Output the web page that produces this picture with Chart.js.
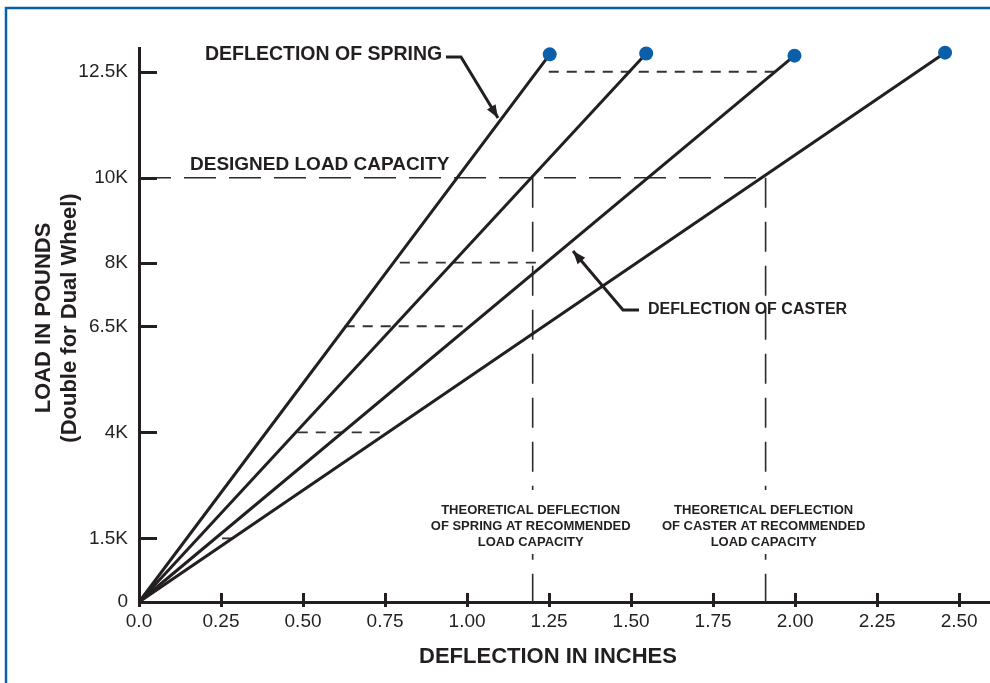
<!DOCTYPE html>
<html>
<head>
<meta charset="utf-8">
<script src="https://cdn.jsdelivr.net/npm/chart.js@4.4.1/dist/chart.umd.min.js"></script>
<style>
  html, body { margin: 0; padding: 0; background: #fff; }
  canvas { display: block; }
</style>
</head>
<body>
<canvas id="loadChart" width="990" height="683"></canvas>
<script>
// load / deflection lines
const lineEndDeflection = [1.252, 1.546, 1.998, 2.457];
const lineEndLoad = [12910, 12930, 12880, 12950];

const xTickValues = [0, 0.25, 0.5, 0.75, 1, 1.25, 1.5, 1.75, 2, 2.25, 2.5];
const yTickValues = [0, 1500, 4000, 6500, 8000, 10000, 12500];
const yTickLabels = ['0', '1.5K', '4K', '6.5K', '8K', '10K', '12.5K'];

const designedLoad = 10000;
const springDeflection = 1.2;
const casterDeflection = 1.91;

// short dashed guides: load level, from / to deflection
const guideLoads = [12500, 8000, 6500, 4000, 1500];
const guideFrom = [1.249, 0.795, 0.627, 0.484, 0.253];
const guideTo = [1.939, 1.231, 1.002, 0.755, 0.283];

const ink = '#231f20';
const blue = '#0b5ea8';
const font = "'Liberation Sans', Arial, Helvetica, sans-serif";

const datasets = [];
lineEndDeflection.forEach((d, i) => {
    datasets.push({
        data: [{ x: 0, y: 0 }, { x: d, y: lineEndLoad[i] }],
        showLine: true,
        borderColor: ink,
        borderWidth: 3,
        pointRadius: [0, 7],
        pointBackgroundColor: blue,
        pointBorderWidth: 0,
        clip: false,
        order: 0
    });
});

// designed load capacity and the two vertical drops
datasets.push({
    data: [{ x: 0, y: designedLoad }, { x: casterDeflection, y: designedLoad }],
    showLine: true, borderColor: '#2a2a2a', borderWidth: 1.6, borderDash: [32, 13],
    pointRadius: 0, order: 1
});
[springDeflection, casterDeflection].forEach(d => {
    datasets.push({
        data: [{ x: d, y: designedLoad }, { x: d, y: 0 }],
        showLine: true, borderColor: '#2a2a2a', borderWidth: 1.6, borderDash: [30, 14],
        pointRadius: 0, order: 1
    });
});

guideLoads.forEach((load, i) => {
    datasets.push({
        data: [{ x: guideFrom[i], y: load }, { x: guideTo[i], y: load }],
        showLine: true, borderColor: '#333', borderWidth: 1.8, borderDash: [10, 8],
        pointRadius: 0, order: 1
    });
});

function arrow(ctx, pts) {
    ctx.beginPath();
    ctx.moveTo(pts[0][0], pts[0][1]);
    for (let i = 1; i < pts.length; i++) ctx.lineTo(pts[i][0], pts[i][1]);
    ctx.stroke();
    const [x1, y1] = pts[pts.length - 2];
    const [x2, y2] = pts[pts.length - 1];
    const a = Math.atan2(y2 - y1, x2 - x1);
    const len = 13, w = 5;
    ctx.beginPath();
    ctx.moveTo(x2, y2);
    ctx.lineTo(x2 - len * Math.cos(a) + w * Math.sin(a), y2 - len * Math.sin(a) - w * Math.cos(a));
    ctx.lineTo(x2 - len * Math.cos(a) - w * Math.sin(a), y2 - len * Math.sin(a) + w * Math.cos(a));
    ctx.closePath();
    ctx.fill();
}

const decorations = {
    id: 'decorations',
    beforeDraw(chart) {
        const ctx = chart.ctx;
        ctx.save();
        ctx.fillStyle = '#fff';
        ctx.fillRect(0, 0, chart.width, chart.height);
        ctx.strokeStyle = blue;
        ctx.lineWidth = 2.5;
        ctx.beginPath();
        ctx.moveTo(6, chart.height);
        ctx.lineTo(6, 8);
        ctx.lineTo(chart.width, 8);
        ctx.stroke();
        ctx.restore();
    },
    afterDraw(chart) {
        const ctx = chart.ctx;
        const xs = chart.scales.x, ys = chart.scales.y;
        const x0 = xs.left, y0 = ys.bottom;
        ctx.save();
        ctx.strokeStyle = ink;
        ctx.fillStyle = ink;
        ctx.lineWidth = 3;

        // tick marks (inside on y, across the axis on x)
        ys.ticks.forEach(t => {
            const py = Math.round(ys.getPixelForValue(t.value)) + 0.5;
            ctx.beginPath();
            ctx.moveTo(x0, py);
            ctx.lineTo(x0 + 18, py);
            ctx.stroke();
        });
        xs.ticks.forEach(t => {
            const px = Math.round(xs.getPixelForValue(t.value)) + 0.5;
            ctx.beginPath();
            ctx.moveTo(px, y0 - 9);
            ctx.lineTo(px, y0 + 5);
            ctx.stroke();
        });

        // axis titles
        ctx.textAlign = 'center';
        ctx.textBaseline = 'middle';
        ctx.font = 'bold 22px ' + font;
        ctx.fillText('DEFLECTION IN INCHES', 548, 657);
        ctx.save();
        ctx.translate(44, 318);
        ctx.rotate(-Math.PI / 2);
        ctx.fillText('LOAD IN POUNDS', 0, 0);
        ctx.fillText('(Double for Dual Wheel)', 0, 26);
        ctx.restore();

        // callouts
        ctx.textAlign = 'left';
        ctx.font = 'bold 19.5px ' + font;
        ctx.fillText('DEFLECTION OF SPRING', 205, 55);
        ctx.font = 'bold 19px ' + font;
        ctx.fillText('DESIGNED LOAD CAPACITY', 190, 165);
        ctx.font = 'bold 16px ' + font;
        ctx.fillText('DEFLECTION OF CASTER', 648, 310);

        ctx.lineWidth = 3;
        arrow(ctx, [[446, 57], [461, 57], [498, 118]]);
        arrow(ctx, [[639, 310], [623, 310], [573, 251]]);

        // theoretical deflection notes, knocking out the dashed drops
        const notes = [
            [springDeflection, ['THEORETICAL DEFLECTION', 'OF SPRING AT RECOMMENDED', 'LOAD CAPACITY']],
            [casterDeflection, ['THEORETICAL DEFLECTION', 'OF CASTER AT RECOMMENDED', 'LOAD CAPACITY']]
        ];
        notes.forEach(([d, lines]) => {
            const cx = xs.getPixelForValue(d) - 2;
            ctx.fillStyle = '#fff';
            ctx.fillRect(cx - 6, 490, 12, 64);
            ctx.fillStyle = ink;
            ctx.textAlign = 'center';
            ctx.font = 'bold 13px ' + font;
            lines.forEach((s, i) => ctx.fillText(s, cx, 510 + i * 16));
        });
        ctx.restore();
    }
};

new Chart(document.getElementById('loadChart'), {
    type: 'scatter',
    data: { datasets: datasets },
    options: {
        responsive: false,
        animation: false,
        events: [],
        layout: { autoPadding: false, padding: { top: 48, left: 0, right: 0, bottom: 0 } },
        elements: { line: { tension: 0 } },
        plugins: { legend: { display: false }, tooltip: { enabled: false } },
        scales: {
            x: {
                type: 'linear',
                min: 0,
                max: 2.594,
                afterFit: s => { s.height = 81; s.paddingRight = 0; s.paddingLeft = 0; },
                afterBuildTicks: s => { s.ticks = xTickValues.map(v => ({ value: v })); },
                grid: { display: false, drawTicks: false },
                border: { display: true, color: ink, width: 3 },
                ticks: {
                    autoSkip: false,
                    maxRotation: 0,
                    padding: 8,
                    color: ink,
                    font: { family: font, size: 19 },
                    callback: v => v === 0 ? '0.0' : v.toFixed(2)
                }
            },
            y: {
                type: 'linear',
                min: 0,
                max: 13060,
                afterFit: s => { s.width = 139; },
                afterBuildTicks: s => { s.ticks = yTickValues.map(v => ({ value: v })); },
                grid: { display: false, drawTicks: false },
                border: { display: true, color: ink, width: 3 },
                ticks: {
                    padding: 11,
                    color: ink,
                    font: { family: font, size: 19 },
                    callback: v => yTickLabels[yTickValues.indexOf(v)]
                }
            }
        }
    },
    plugins: [decorations]
});
</script>
</body>
</html>
